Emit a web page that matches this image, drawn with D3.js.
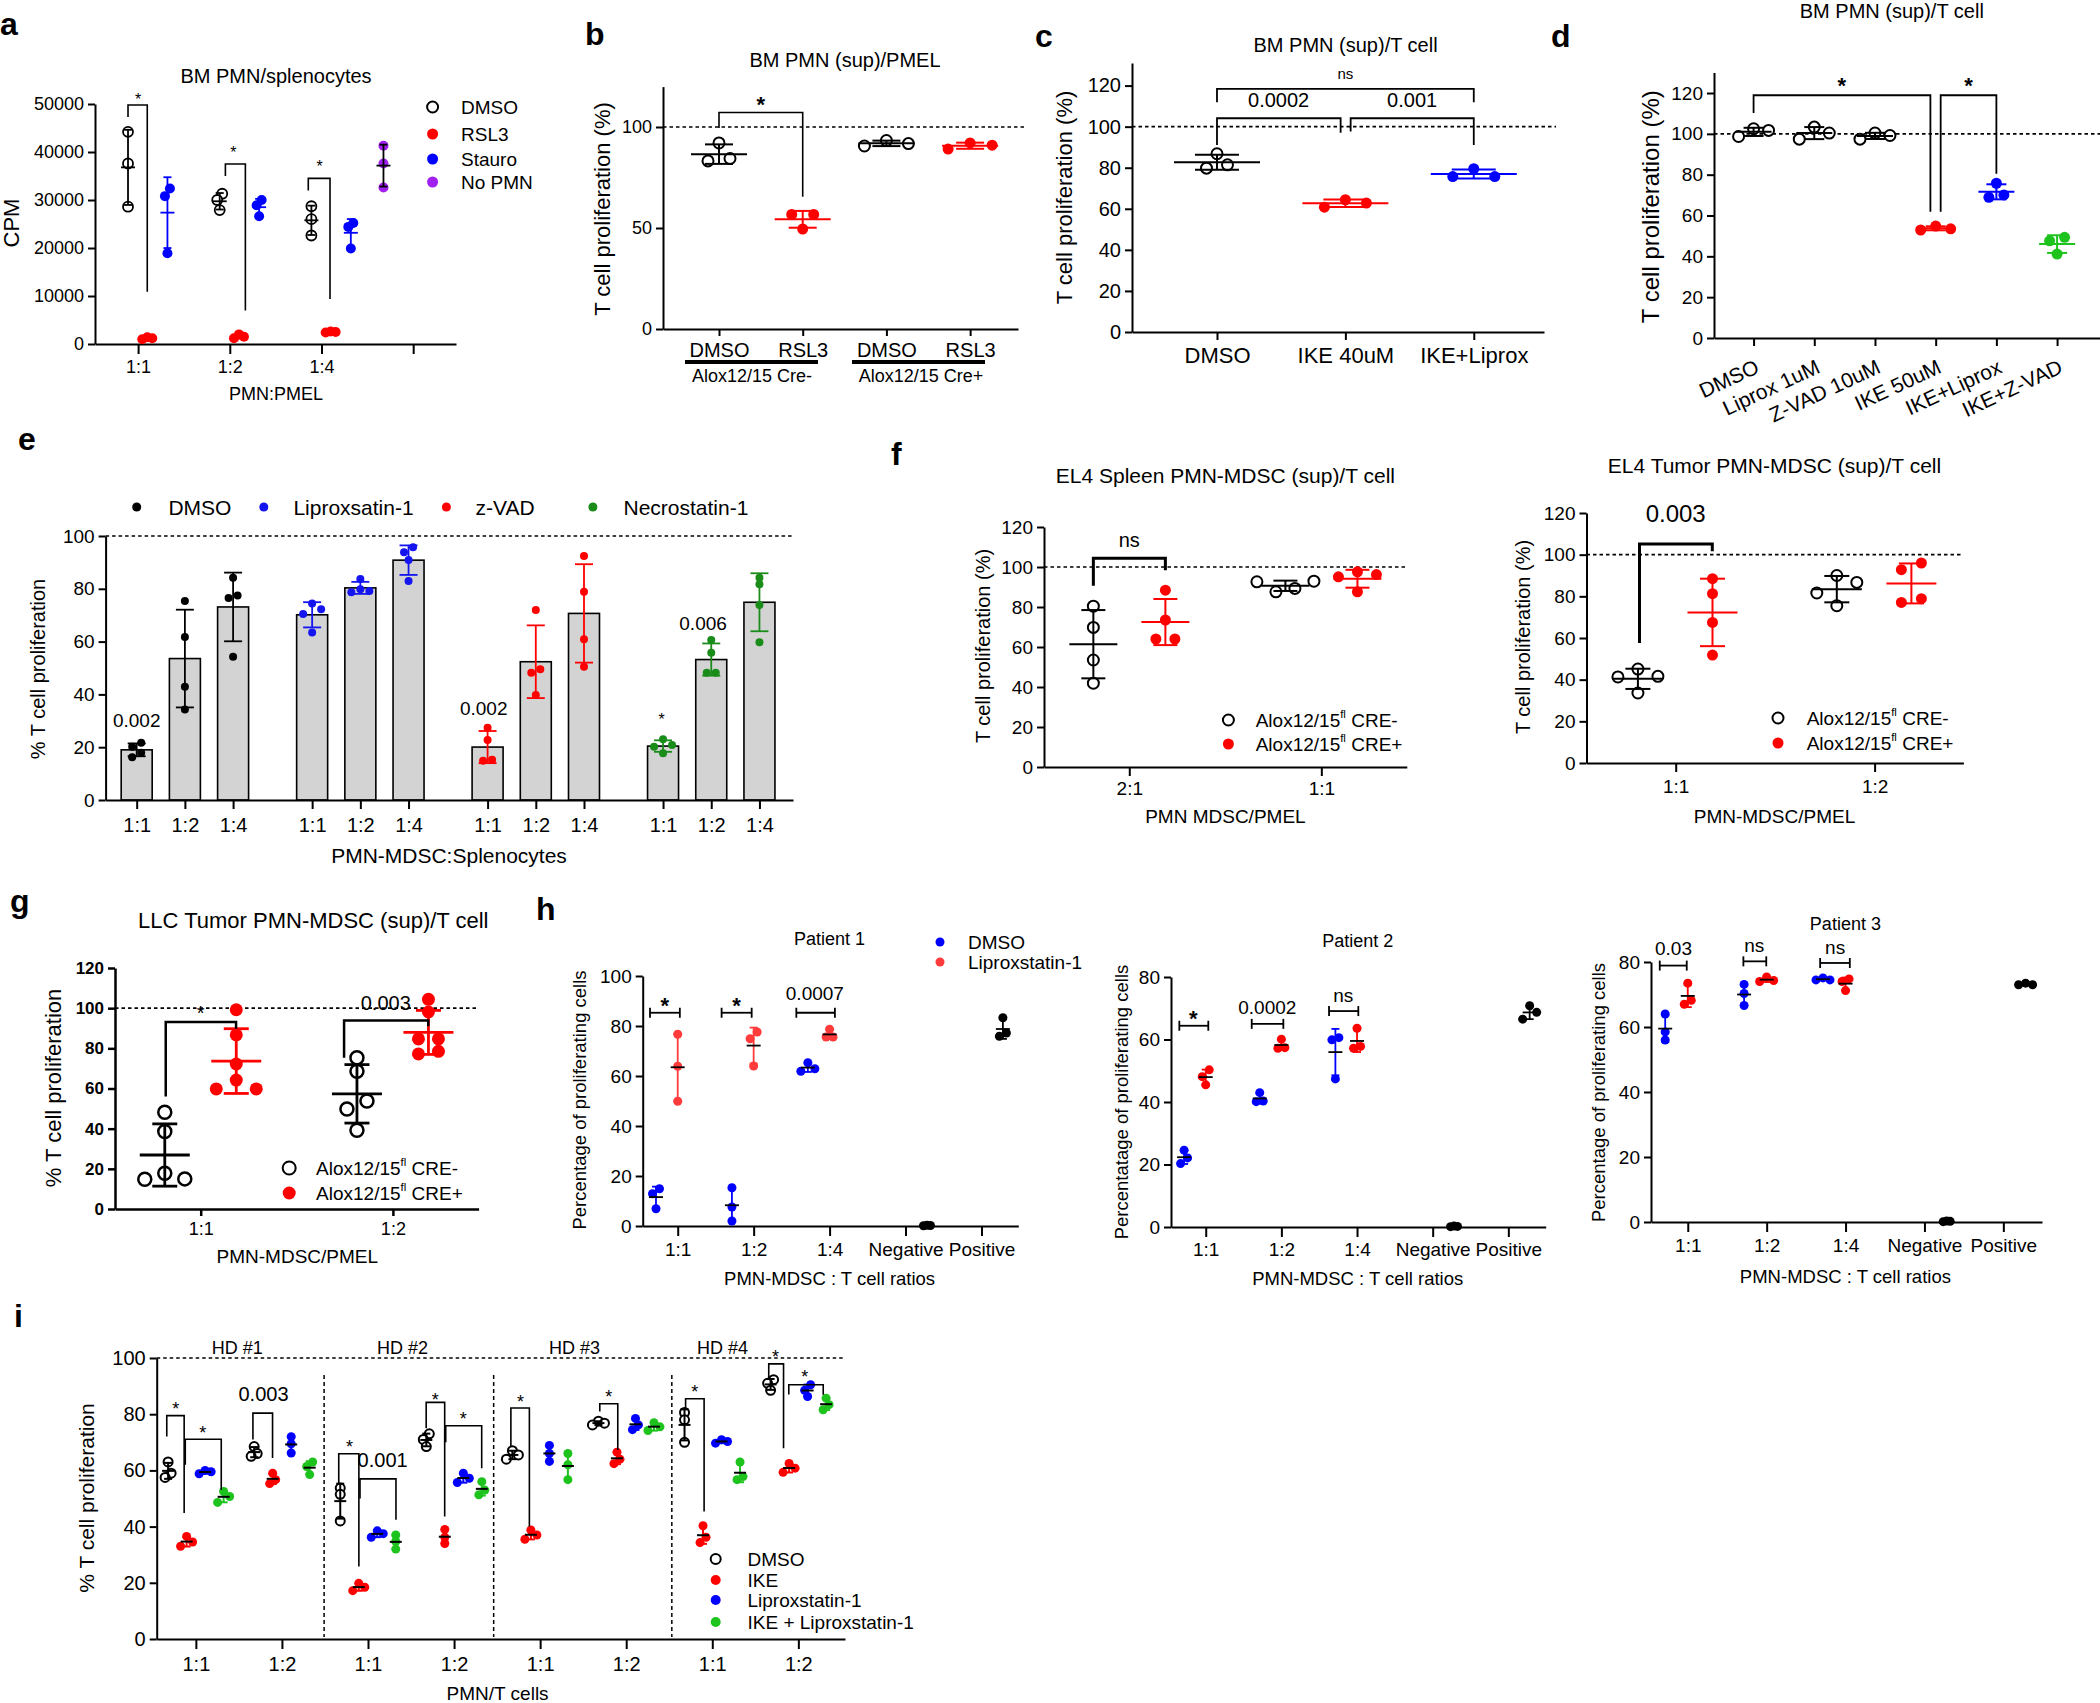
<!DOCTYPE html>
<html><head><meta charset="utf-8">
<script src="https://cdn.jsdelivr.net/npm/d3@7"></script>
<style>
body{margin:0;background:#fff}
svg{font-family:"Liberation Sans",Arial,Helvetica,sans-serif}
</style></head><body>
<svg id="fig" width="2100" height="1703" xmlns="http://www.w3.org/2000/svg"></svg>
<script>
// ================= DATA =================
// panel a
const aCategories = ["1:1","1:2","1:4",""];
const aSeries = ["DMSO","RSL3","Stauro","No PMN"];
const aDMSO   = [[44200,37600,28600],[31300,30000,27900],[28700,26000,22600]];
const aRSL3   = [[1000,1200,1400],[1500,2000,1200],[2500,2400,2600]];
const aStauro = [[32400,30800,18900],[30000,28900,26600],[25200,24400,19900]];
const aNoPMN  = [41300,37600,32600];
const aYTicks = [0,10000,20000,30000,40000,50000];
// panel b
const bCategories = ["DMSO","RSL3","DMSO","RSL3"];
const bGroups = ["Alox12/15 Cre-","Alox12/15 Cre+"];
const bValues = [[92.1,83.2,84.4],[56.7,56.7,49.5],[90.6,93.3,91.8],[89.1,92.1,91.0]];
const bYTicks = [0,50,100];
// panel c
const cCategories = ["DMSO","IKE 40uM","IKE+Liprox"];
const cValues = [[86.8,79.8,81.4],[64.4,60.8,62.8],[79.5,75.7,75.7]];
const cYTicks = [0,20,40,60,80,100,120];
// panel d
const dCategories = ["DMSO","Liprox 1uM","Z-VAD 10uM","IKE 50uM","IKE+Liprox","IKE+Z-VAD"];
const dValues = [[98.7,102.5,101.7],[103.3,97.4,100.4],[97.4,100.4,99.2],[52.9,54.8,53.5],[75.8,68.9,70.1],[49.3,47.6,41.1]];
const dYTicks = [0,20,40,60,80,100,120];
// panel e
const eRatios = ["1:1","1:2","1:4"];
const eTreatments = ["DMSO","Liproxsatin-1","z-VAD","Necrostatin-1"];
const eDMSO   = [[21.7,20.2,17.9,16.2],[75.4,61.7,42.9,34.3],[84.2,77.5,76.5,54.3]];
const eLiprox = [[74.4,72.3,70.5,63.4],[83.7,78.7,79.2,79.8],[95.7,93.8,90.9,83.0]];
const eZVAD   = [[27.4,22.7,14.9,15.2],[72.0,49.5,48.2,39.8],[92.4,78.9,60.9,50.5]];
const eNecro  = [[23.0,20.8,20.2,17.7],[60.6,55.8,48.2,48.2],[84.2,81.7,73.9,59.8]];
const eYTicks = [0,20,40,60,80,100];
// panel f
const fLeftCategories = ["2:1","1:1"];
const fLeftCreNeg = [[80.4,69.8,53.5,41.9],[92.9,87.6,92.6,89.3]];
const fLeftCrePos = [[88.4,73.5,64.0,64.0],[97.6,95.1,96.2,87.6]];
const fRightCategories = ["1:1","1:2"];
const fRightCreNeg = [[45.1,41.3,41.6,33.6],[90.0,86.7,81.6,75.5]];
const fRightCrePos = [[88.5,81.3,67.5,51.8],[96.0,92.8,77.1,78.9]];
const fYTicks = [0,20,40,60,80,100,120];
// panel g
const gCategories = ["1:1","1:2"];
const gCreNeg = [[48.2,38.6,15.0,17.8,14.8],[75.3,68.6,53.8,49.8,39.2]];
const gCrePos = [[99.2,86.7,72.2,64.2,59.8,59.8],[104.4,98.1,84.7,84.7,77.2,78.5]];
const gYTicks = [0,20,40,60,80,100,120];
// panel h
const hCategories = ["1:1","1:2","1:4","Negative","Positive"];
const h1DMSO   = [[14.9,12.9,6.9],[15.3,7.6,2.0],[65.3,61.9,62.9]];
const h1Liprox = [[76.7,63.9,49.9],[77.6,74.9,64.0],[78.7,75.6,75.6]];
const h1Neg = [0.1,0.2,0.3], h1Pos = [83.3,75.9,77.2];
const h2DMSO   = [[24.6,22.1,20.3],[43.0,40.3,40.1],[60.6,59.9,47.4]];
const h2Liprox = [[50.3,48.1,45.5],[60.1,57.4,57.2],[63.6,57.2,57.8]];
const h2Neg = [0.1,0.2,0.3], h2Pos = [70.8,68.7,66.5];
const h3DMSO   = [[64.0,58.5,56.0],[73.1,70.3,66.6],[75.1,74.5,74.5]];
const h3Liprox = [[73.5,68.2,67.0],[75.4,74.3,74.0],[74.8,74.0,71.2]];
const h3Neg = [0.1,0.2,0.3], h3Pos = [73.0,73.5,73.0];
const h1YTicks = [0,20,40,60,80,100];
const h23YTicks = [0,20,40,60,80];
// panel i
const iDonors = ["HD #1","HD #2","HD #3","HD #4"];
const iRatios = ["1:1","1:2","1:1","1:2","1:1","1:2","1:1","1:2"];
const iSeries = ["DMSO","IKE","Liproxstatin-1","IKE + Liproxstatin-1"];
const iDMSO   = [[63,59,57.5],[68.5,66,65],[53.7,51.5,42],[73,71,68.5],[67,65.5,64],[77.5,76.8,76.2],[80.6,78,70],[92.3,91,88.5]];
const iIKE    = [[36.5,34.5,33],[59,56.7,55.3],[19.8,18.4,17.2],[39,36.2,34],[38.8,37,35.5],[66.5,64,62.4],[40.3,36.2,34.3],[62.5,60.8,59.3]];
const iLiprox = [[60,59.5,58.8],[72,69.5,66.2],[38.5,37.5,36.2],[59,57.2,55.7],[68.9,66,63.2],[78.5,76.2,74.5],[70.9,70.3,69.7],[90.5,88.5,86.3]];
const iCombo  = [[52.5,50.7,48.6],[63,61.4,58.5],[37,34.7,32],[56,53,51.3],[66,62,56.7],[77,75.5,74.2],[63,57.8,56.7],[85.7,83.4,81.6]];
const iYTicks = [0,20,40,60,80,100];

// ================= HELPERS =================
const svg = d3.select("#fig");
const RED="#ff0000", BLUE="#0000ff", GREEN="#1ec31e";

function txt(g,x,y,s,o={}){
  const t=g.append("text").attr("x",x).attr("y",y).text(s)
    .attr("font-size",o.size||18).attr("text-anchor",o.anchor||"middle").attr("fill",o.color||"#000");
  if(o.weight) t.attr("font-weight",o.weight);
  return t;
}
function ann(g,x,cy,s,fs,o={}){ const k = s==="*"?0.6:0.36; return txt(g,x,cy+k*fs,s,Object.assign({size:fs},o)); }
function ylab(g,cx,cy,s,fs){
  g.append("text").attr("transform",`translate(${cx},${cy}) rotate(-90)`).attr("text-anchor","middle")
   .attr("dy","0.35em").attr("font-size",fs).text(s);
}
function letter(g,x,y,s){ txt(g,x,y,s,{size:32,anchor:"start",weight:"bold"}); }
function yAxis(g,y,x0,ticks,o={}){
  const ax=d3.axisLeft(y).tickValues(ticks).tickSize(o.tick||7).tickSizeOuter(0).tickPadding(o.pad||4).tickFormat(o.fmt||d3.format("d"));
  const a=g.append("g").attr("transform",`translate(${x0},0)`).call(ax);
  a.select(".domain").attr("stroke","#000").attr("stroke-width",o.sw||2);
  a.selectAll(".tick line").attr("stroke","#000").attr("stroke-width",o.sw||2);
  a.selectAll(".tick text").attr("font-size",o.size||18).attr("fill","#000").attr("font-family",null);
  if(o.bold) a.selectAll(".tick text").attr("font-weight","bold");
  a.attr("font-family",null);
  return a;
}
function xAxis(g,x,y0,vals,labels,o={}){
  const fs=o.size||18, tk=o.tick||8;
  const pad = o.base!=null ? o.base - y0 - tk - 0.71*fs : 6;
  const ax=d3.axisBottom(x).tickValues(vals).tickFormat((d,i)=>labels[i]).tickSize(tk).tickSizeOuter(0).tickPadding(pad);
  const a=g.append("g").attr("transform",`translate(0,${y0})`).call(ax);
  a.select(".domain").attr("stroke","#000").attr("stroke-width",o.sw||2);
  a.selectAll(".tick line").attr("stroke","#000").attr("stroke-width",o.sw||2);
  a.selectAll(".tick text").attr("font-size",fs).attr("fill","#000");
  a.attr("font-family",null);
  return a;
}
function hdash(g,x1,x2,yy){ g.append("line").attr("x1",x1).attr("x2",x2).attr("y1",yy).attr("y2",yy)
  .attr("stroke","#000").attr("stroke-width",1.6).attr("stroke-dasharray","3.5,3"); }
function ln(g,x1,y1,x2,y2,c,w){ g.append("line").attr("x1",x1).attr("y1",y1).attr("x2",x2).attr("y2",y2).attr("stroke",c).attr("stroke-width",w); }
function swarm(vals,y,thr,d){
  const idx=vals.map((v,i)=>i).sort((a,b)=>vals[a]-vals[b]);
  const py=vals.map(v=>y(v));
  const cl=[]; let cur=[idx[0]];
  for(let k=1;k<idx.length;k++){ if(Math.abs(py[idx[k]]-py[idx[k-1]])<thr) cur.push(idx[k]); else {cl.push(cur); cur=[idx[k]];} }
  cl.push(cur);
  const off=new Array(vals.length).fill(0);
  cl.forEach(c=>{
    const n=c.length; if(n===1) return;
    const slots=[];
    if(n%2===1){ off[c[n-1]]=0; for(let k=1;k<=(n-1)/2;k++) slots.push(-k,k); c.slice(0,n-1).forEach((p,j)=>off[p]=slots[j]*d); }
    else { for(let k=0;k<n/2;k++) slots.push(-(k+0.5),k+0.5); c.forEach((p,j)=>off[p]=slots[j]*d); }
  });
  return off;
}
function dotGroup(g,x,y,u,vals,st){
  const cx=x(u), m=d3.mean(vals), sd=vals.length>1?d3.deviation(vals):0;
  const off=swarm(vals,y,st.thr,st.d), col=st.color;
  g.append("g").selectAll("circle").data(vals).join("circle")
    .attr("cx",(v,i)=>cx+off[i]).attr("cy",v=>y(v)).attr("r",st.r)
    .attr("fill",st.open?"#fff":col).attr("stroke",st.open?col:"none").attr("stroke-width",st.open?st.sw:0);
  const ec=st.errColor||col, mc=st.meanColor||col, lw=st.lw||st.sw;
  if(sd>0.05){
    ln(g,cx,y(m+sd),cx,y(m-sd),ec,lw);
    ln(g,cx-st.capHalf,y(m+sd),cx+st.capHalf,y(m+sd),ec,lw);
    ln(g,cx-st.capHalf,y(m-sd),cx+st.capHalf,y(m-sd),ec,lw);
  }
  if(st.meanHalf) ln(g,cx-st.meanHalf,y(m),cx+st.meanHalf,y(m),mc,lw);
  return m;
}
function bracket(g,x,y,xl,xr,yt,yl,yr,sw){
  const p=d3.path(); p.moveTo(x(xl),y(yl)); p.lineTo(x(xl),y(yt)); p.lineTo(x(xr),y(yt)); p.lineTo(x(xr),y(yr));
  g.append("path").attr("d",p.toString()).attr("fill","none").attr("stroke","#000").attr("stroke-width",sw||1.6);
}
function capBracket(g,x,y,xl,xr,yv,h,sw){
  const yy=y(yv);
  ln(g,x(xl),yy,x(xr),yy,"#000",sw); ln(g,x(xl),yy-h,x(xl),yy+h,"#000",sw); ln(g,x(xr),yy-h,x(xr),yy+h,"#000",sw);
}
function legendRow(g,mx,tx,cy,label,color,open,r,fs){
  g.append("circle").attr("cx",mx).attr("cy",cy).attr("r",r).attr("fill",open?"#fff":color).attr("stroke",open?color:"none").attr("stroke-width",open?2:0);
  txt(g,tx,cy+0.36*fs,label,{size:fs,anchor:"start"});
}
function legendSup(g,mx,tx,cy,suffix,color,open,r,fs){
  g.append("circle").attr("cx",mx).attr("cy",cy).attr("r",r).attr("fill",open?"#fff":color).attr("stroke",open?color:"none").attr("stroke-width",open?2:0);
  const t=g.append("text").attr("x",tx).attr("y",cy+0.36*fs).attr("font-size",fs);
  t.append("tspan").text("Alox12/15");
  t.append("tspan").attr("dy",-0.45*fs).attr("font-size",fs*0.6).text("fl");
  t.append("tspan").attr("dy",0.45*fs).text(" "+suffix);
}

// ================= PANEL a =================
{
  const g=svg.append("g");
  const y=d3.scaleLinear().domain([0,50000]).range([344,104]);
  const x=d3.scaleLinear().domain([-0.47,3.467]).range([95,456]);
  yAxis(g,y,95,aYTicks,{size:18});
  xAxis(g,x,344,d3.range(aCategories.length),aCategories,{size:18,tick:10,base:373});
  const st={r:5,sw:1.8,meanHalf:7,capHalf:4,thr:8,d:5};
  aDMSO.forEach((v,i)=>dotGroup(g,x,y,i-0.11,v,Object.assign({},st,{color:"#000",open:true})));
  aRSL3.forEach((v,i)=>dotGroup(g,x,y,i+0.10,v,Object.assign({},st,{color:RED})));
  aStauro.forEach((v,i)=>dotGroup(g,x,y,i+0.32,v,Object.assign({},st,{color:BLUE})));
  dotGroup(g,x,y,2.676,aNoPMN,Object.assign({},st,{color:"#a020f0",errColor:"#000",meanColor:"#000"}));
  bracket(g,x,y,-0.11,0.10,49800,47300,10900,1.6); ann(g,x(0),95,"*",16);
  bracket(g,x,y,0.952,1.17,37500,35000,7000,1.6); ann(g,x(1.04),148,"*",16);
  bracket(g,x,y,1.856,2.093,34500,32000,9400,1.6); ann(g,x(1.98),162,"*",16);
  txt(g,276,83,"BM PMN/splenocytes",{size:20});
  txt(g,276,400,"PMN:PMEL",{size:18});
  ylab(g,11,223,"CPM",22);
  const lc=[["#000",true],[RED,false],[BLUE,false],["#a020f0",false]];
  [107,134,159,182].forEach((cy,i)=>legendRow(g,432.6,461,cy,aSeries[i],lc[i][0],lc[i][1],5.5,19));
  letter(g,0,35,"a");
}
// ================= PANEL b =================
{
  const g=svg.append("g");
  const y=d3.scaleLinear().domain([0,120]).range([329,86.6]);
  const x=d3.scaleLinear().domain([-0.669,3.572]).range([663,1018]);
  hdash(g,663,1027,y(100));
  yAxis(g,y,663,bYTicks,{size:18});
  xAxis(g,x,329,d3.range(4),bCategories,{size:20,tick:7,base:357});
  const cols=["#000",RED,"#000",RED];
  bValues.forEach((v,i)=>dotGroup(g,x,y,i,v,{color:cols[i],open:i%2===0,r:5.5,sw:2,meanHalf:28,capHalf:14,thr:11,d:22}));
  bracket(g,x,y,0,1,107.2,99.5,65.5,1.6); ann(g,x(0.5),98.3,"*",22,{weight:"bold"});
  ln(g,685,362,818,362,"#000",4); ln(g,852,362,985,362,"#000",4);
  txt(g,752,382,bGroups[0],{size:18}); txt(g,921,382,bGroups[1],{size:18});
  txt(g,845,67,"BM PMN (sup)/PMEL",{size:20});
  ylab(g,602,209,"T cell proliferation (%)",22);
  letter(g,585,45,"b");
}
// ================= PANEL c =================
{
  const g=svg.append("g");
  const y=d3.scaleLinear().domain([0,131]).range([332,63]);
  const x=d3.scaleLinear().domain([-0.662,2.547]).range([1132,1544]);
  hdash(g,1132,1556,y(100));
  yAxis(g,y,1132,cYTicks,{size:20});
  xAxis(g,x,332,d3.range(3),cCategories,{size:22,tick:8,base:363});
  const cols=["#000",RED,BLUE];
  cValues.forEach((v,i)=>dotGroup(g,x,y,i,v,{color:cols[i],open:i===0,r:5.5,sw:2,meanHalf:43,capHalf:22,thr:10,d:21}));
  bracket(g,x,y,0,2,118.4,111.9,111.9,1.8); ann(g,x(1),74,"ns",15);
  bracket(g,x,y,0,0.963,104.1,91.1,97,1.8); ann(g,x(0.48),100,"0.0002",20);
  bracket(g,x,y,1.041,2,104.1,97.6,91.1,1.8); ann(g,x(1.52),100,"0.001",20);
  txt(g,1345.6,52,"BM PMN (sup)/T cell",{size:20});
  ylab(g,1064,197.5,"T cell proliferation (%)",22);
  letter(g,1035,47,"c");
}
// ================= PANEL d =================
{
  const g=svg.append("g");
  const y=d3.scaleLinear().domain([0,130]).range([338,72.6]);
  const x=d3.scaleLinear().domain([-0.652,5.707]).range([1714,2100]);
  hdash(g,1714,2100,y(100));
  yAxis(g,y,1714,dYTicks,{size:19});
  xAxis(g,x,338,d3.range(6),dCategories.map(()=>""),{size:20,tick:8});
  dCategories.forEach((c,i)=>g.append("text").attr("transform",`translate(${x(i)+7},372) rotate(-25)`)
     .attr("text-anchor","end").attr("font-size",21).text(c));
  const cols=["#000","#000","#000",RED,BLUE,GREEN];
  dValues.forEach((v,i)=>dotGroup(g,x,y,i,v,{color:cols[i],open:i<3,r:5.5,sw:2,meanHalf:18,capHalf:10,thr:10,d:15}));
  bracket(g,x,y,0,2.913,118.9,110.2,61.9,1.8); ann(g,x(1.453),80,"*",22,{weight:"bold"});
  bracket(g,x,y,3.082,4.0,118.9,61.9,80.5,1.8); ann(g,x(3.54),80,"*",22,{weight:"bold"});
  txt(g,1891.8,18,"BM PMN (sup)/T cell",{size:20});
  ylab(g,1650.7,206.7,"T cell proliferation (%)",24);
  letter(g,1551,47,"d");
}
// ================= PANEL e =================
{
  const g=svg.append("g");
  const y=d3.scaleLinear().domain([0,100]).range([800,536]);
  const x=d3.scaleLinear().domain([-0.645,13.616]).range([105.6,793]);
  const slot=(t,i)=>t*3.64+i;
  const all=[eDMSO,eLiprox,eZVAD,eNecro];
  const cols=["#000","#1515f0",RED,"#1a8c1a"];
  const slots=[], labs=[];
  all.forEach((s,t)=>s.forEach((v,i)=>{
    slots.push(slot(t,i)); labs.push(eRatios[i]);
    const m=d3.mean(v);
    g.append("rect").attr("x",x(slot(t,i))-15.5).attr("width",31).attr("y",y(m)).attr("height",y(0)-y(m))
      .attr("fill","#d3d3d3").attr("stroke","#000").attr("stroke-width",1.6);
  }));
  all.forEach((s,t)=>s.forEach((v,i)=>dotGroup(g,x,y,slot(t,i),v,{color:cols[t],r:4,sw:1.8,meanHalf:0,capHalf:9,thr:6,d:9})));
  hdash(g,105.6,793,y(100));
  yAxis(g,y,105.6,eYTicks,{size:19});
  xAxis(g,x,800,slots,labs,{size:20,tick:9,base:832});
  const mx=[136.7,263.8,446.4,592.9], tx=[168.4,293.4,475.5,623.5];
  eTreatments.forEach((s,i)=>legendRow(g,mx[i],tx[i],507,s,cols[i],false,4.5,21));
  ann(g,x(0),720,"0.002",19); ann(g,x(7.2),708,"0.002",19);
  ann(g,x(10.89),715,"*",16); ann(g,x(11.75),623,"0.006",19);
  txt(g,449,863,"PMN-MDSC:Splenocytes",{size:21});
  ylab(g,38,669,"% T cell proliferation",20);
  letter(g,18,450,"e");
}
// ================= PANEL f (left) =================
{
  const g=svg.append("g");
  const y=d3.scaleLinear().domain([0,120]).range([767,527]);
  const x=d3.scaleLinear().domain([-0.444,1.445]).range([1044,1406.8]);
  hdash(g,1044,1406.8,y(100));
  yAxis(g,y,1044,fYTicks,{size:19});
  xAxis(g,x,767,[0,1],fLeftCategories,{size:19,tick:9,base:795});
  const st={r:5.5,sw:2,meanHalf:24,capHalf:12,thr:12,d:19};
  fLeftCreNeg.forEach((v,i)=>dotGroup(g,x,y,i-0.187,v,Object.assign({},st,{color:"#000",open:true})));
  fLeftCrePos.forEach((v,i)=>dotGroup(g,x,y,i+0.188,v,Object.assign({},st,{color:RED})));
  bracket(g,x,y,-0.187,0.188,104.4,90.6,98.4,3); ann(g,x(0),540,"ns",20);
  legendSup(g,1228.4,1255.7,720,"CRE-","#000",true,5.5,19);
  legendSup(g,1228.4,1255.7,744,"CRE+",RED,false,5.5,19);
  txt(g,1225.4,483,"EL4 Spleen PMN-MDSC (sup)/T cell",{size:21});
  txt(g,1225.4,823,"PMN MDSC/PMEL",{size:19});
  ylab(g,983,646,"T cell proliferation (%)",20);
  letter(g,891,465,"f");
}
// ================= PANEL f (right) =================
{
  const g=svg.append("g");
  const y=d3.scaleLinear().domain([0,120]).range([763,513]);
  const x=d3.scaleLinear().domain([-0.4485,1.4465]).range([1586.5,1963.4]);
  hdash(g,1586.5,1963.4,y(100));
  yAxis(g,y,1586.5,fYTicks,{size:19});
  xAxis(g,x,763,[0,1],fRightCategories,{size:19,tick:9,base:793});
  const st={r:5.5,sw:2,meanHalf:25,capHalf:12.5,thr:12,d:20};
  fRightCreNeg.forEach((v,i)=>dotGroup(g,x,y,i-0.19,v,Object.assign({},st,{color:"#000",open:true})));
  fRightCrePos.forEach((v,i)=>dotGroup(g,x,y,i+0.185,v,Object.assign({},st,{color:RED})));
  bracket(g,x,y,-0.182,0.184,105.1,57.6,101.6,3); ann(g,x(0),513,"0.003",24);
  legendSup(g,1778,1806.7,718,"CRE-","#000",true,5.5,19);
  legendSup(g,1778,1806.7,743,"CRE+",RED,false,5.5,19);
  txt(g,1774.5,473,"EL4 Tumor PMN-MDSC (sup)/T cell",{size:21});
  txt(g,1774.5,823,"PMN-MDSC/PMEL",{size:19});
  ylab(g,1523.4,637,"T cell proliferation (%)",20);
}
// ================= PANEL g =================
{
  const g=svg.append("g");
  const y=d3.scaleLinear().domain([0,120]).range([1209,968]);
  const x=d3.scaleLinear().domain([-0.446,1.446]).range([115,478.6]);
  hdash(g,115,478.6,y(100));
  yAxis(g,y,115,gYTicks,{size:17,bold:true,sw:2.5});
  xAxis(g,x,1209,[0,1],gCategories,{size:18,tick:7,base:1235,sw:2.5});
  const st={r:6.5,sw:2.5,lw:2.8,meanHalf:25,capHalf:12.5,thr:12,d:20};
  gCreNeg.forEach((v,i)=>dotGroup(g,x,y,i-0.187,v,Object.assign({},st,{color:"#000",open:true})));
  gCrePos.forEach((v,i)=>dotGroup(g,x,y,i+0.185,v,Object.assign({},st,{color:RED})));
  bracket(g,x,y,-0.182,0.184,93.1,56,89.8,2.5); ann(g,x(0),1008,"*",20);
  bracket(g,x,y,0.746,1.184,93.8,75.3,91,2.5); ann(g,x(0.963),1003,"0.003",20);
  legendSup(g,289.2,316.1,1168,"CRE-","#000",true,6.5,19);
  legendSup(g,289.2,316.1,1193,"CRE+",RED,false,6.5,19);
  txt(g,313.3,928,"LLC Tumor PMN-MDSC (sup)/T cell",{size:22});
  txt(g,297.3,1263,"PMN-MDSC/PMEL",{size:19});
  ylab(g,53,1088,"% T cell proliferation",22);
  letter(g,10,912,"g");
}
// ================= PANEL h =================
function hPanel(cfg){
  const g=svg.append("g");
  const y=d3.scaleLinear().domain([0,cfg.ymax]).range(cfg.yr);
  const x=d3.scaleLinear().domain(cfg.xd).range(cfg.xr);
  yAxis(g,y,cfg.xr[0],cfg.ticks,{size:19});
  xAxis(g,x,cfg.yr[0],d3.range(5),hCategories,{size:19,tick:10,base:cfg.tickBase});
  const st={r:4.5,sw:1.8,meanHalf:7,capHalf:4,meanColor:"#000",thr:7,d:7};
  cfg.dmso.forEach((v,i)=>dotGroup(g,x,y,i-0.286,v,Object.assign({},st,{color:BLUE})));
  cfg.lip.forEach((v,i)=>dotGroup(g,x,y,i,v,Object.assign({},st,{color:cfg.red})));
  dotGroup(g,x,y,3.282,cfg.neg,Object.assign({},st,{color:"#000",d:3.5}));
  dotGroup(g,x,y,4.282,cfg.pos,Object.assign({},st,{color:"#000"}));
  cfg.br.forEach(b=>{ capBracket(g,x,y,b[0],b[1],b[2],5,1.8); ann(g,x(b[3]),b[4],b[5],b[5]==="*"?22:19,b[5]==="*"?{weight:"bold"}:{}); });
  txt(g,cfg.titleX,cfg.titleY,cfg.title,{size:18});
  txt(g,cfg.titleX,cfg.xtBase,"PMN-MDSC : T cell ratios",{size:18.5});
  ylab(g,cfg.ylx,cfg.yly,cfg.ylab,18.5);
  return g;
}
{
  const g=hPanel({ymax:100,yr:[1226,976],xd:[-0.461,4.485],xr:[642.7,1018.3],ticks:h1YTicks,tickBase:1256,
    dmso:h1DMSO,lip:h1Liprox,neg:h1Neg,pos:h1Pos,red:"#ff3b3b",
    br:[[-0.365,0.028,85.3,-0.171,1000,"*"],[0.578,0.974,85.3,0.776,1000,"*"],[1.562,2.07,85.3,1.806,993,"0.0007"]],
    title:"Patient 1",titleX:829.6,titleY:945,xtBase:1285,ylx:580,yly:1100,ylab:"Percentage of proliferating cells"});
  legendRow(g,940,968,942,"DMSO",BLUE,false,4.5,19);
  legendRow(g,940,968,962,"Liproxstatin-1","#ff3b3b",false,4.5,19);
  letter(g,536,920,"h");
}
hPanel({ymax:80,yr:[1227,977],xd:[-0.459,4.494],xr:[1171,1545.7],ticks:h23YTicks,tickBase:1256,
  dmso:h2DMSO,lip:h2Liprox,neg:h2Neg,pos:h2Pos,red:RED,
  br:[[-0.349,0.034,64.4,-0.164,1013,"*"],[0.608,1.026,65,0.814,1007,"0.0002"],[1.63,2.017,69.1,1.819,995,"ns"]],
  title:"Patient 2",titleX:1357.7,titleY:947,xtBase:1285,ylx:1121.7,yly:1102,ylab:"Percentatage of proliferating cells"});
hPanel({ymax:80,yr:[1222,962],xd:[-0.466,4.49],xr:[1651,2042],ticks:h23YTicks,tickBase:1252,
  dmso:h3DMSO,lip:h3Liprox,neg:h3Neg,pos:h3Pos,red:RED,
  br:[[-0.355,-0.013,78.9,-0.181,948,"0.03"],[0.705,0.995,80.2,0.844,945,"ns"],[1.678,2.054,79.7,1.868,947,"ns"]],
  title:"Patient 3",titleX:1845.4,titleY:930,xtBase:1283,ylx:1599,yly:1092.5,ylab:"Percentage of proliferating cells"});
// ================= PANEL i =================
{
  const g=svg.append("g");
  const y=d3.scaleLinear().domain([0,100]).range([1639,1358]);
  const x=d3.scaleLinear().domain([-0.455,7.542]).range([156.7,845]);
  hdash(g,156.7,845,y(100));
  [1.49,3.46,5.53].forEach(u=>g.append("line").attr("x1",x(u)).attr("x2",x(u)).attr("y1",1375).attr("y2",1637)
     .attr("stroke","#000").attr("stroke-width",1.5).attr("stroke-dasharray","4,3"));
  yAxis(g,y,156.7,iYTicks,{size:20});
  xAxis(g,x,1639,d3.range(8),iRatios,{size:20,tick:10,base:1671});
  [0.48,2.4,4.4,6.12].forEach((u,i)=>txt(g,x(u),1354,iDonors[i],{size:18}));
  const all=[iDMSO,iIKE,iLiprox,iCombo], cols=["#000",RED,BLUE,GREEN], offs=[-0.3225,-0.1075,0.1075,0.3225];
  all.forEach((s,k)=>s.forEach((v,i)=>dotGroup(g,x,y,i+offs[k],v,{color:cols[k],open:k===0,r:4.5,sw:2,meanHalf:6,capHalf:4,meanColor:"#000",thr:6,d:6})));
  const br=[[-0.338,-0.136,79.5,72.1,44.8],[-0.123,0.295,71.1,62,53.1],[0.663,0.891,80.4,71,64.4],
    [1.66,1.894,65.9,55.5,25.8],[1.907,2.325,57,50,42.4],[2.676,2.891,84.2,75,43.6],[2.903,3.321,75.9,70,60.8],
    [3.66,3.875,82.2,68.5,40],[4.693,4.902,83.7,81,67.3],[5.69,5.905,85.5,81.6,45.4],[6.656,6.828,97.9,92.9,67.9],[6.889,7.289,90.5,87,86.9]];
  br.forEach(b=>bracket(g,x,y,b[0],b[1],b[2],b[3],b[4],1.6));
  const labs=[["*",-0.234,1404],["*",0.08,1428],["0.003",0.786,1394],["*",1.784,1442],["0.001",2.17,1460],["*",2.78,1395],
    ["*",3.106,1414],["*",3.771,1397],["*",4.798,1392],["*",5.795,1387],["*",6.735,1352],["*",7.074,1372]];
  labs.forEach(l=>ann(g,x(l[1]),l[2],l[0],l[0]==="*"?18:20));
  [1559,1580,1600,1622].forEach((cy,k)=>legendRow(g,715.7,747.5,cy,iSeries[k],cols[k],k===0,5,19));
  txt(g,497.6,1700,"PMN/T cells",{size:19});
  ylab(g,87,1498,"% T cell proliferation",21);
  letter(g,14,1327,"i");
}
</script>
</body></html>
